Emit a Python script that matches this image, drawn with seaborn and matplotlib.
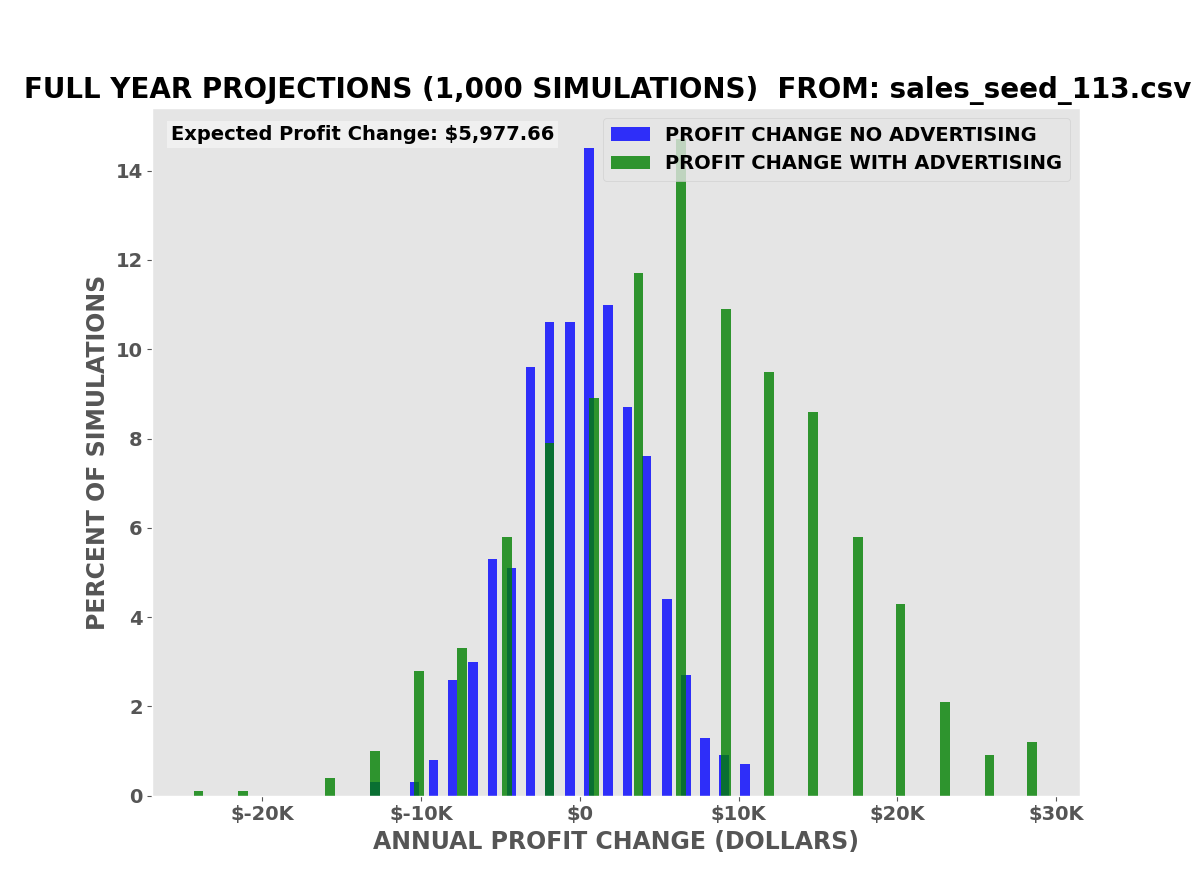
import matplotlib
matplotlib.use("Agg")
import matplotlib.pyplot as plt
import seaborn as sns
import pandas as pd
from matplotlib.ticker import FuncFormatter

# bin centers (dollars) and percent of simulations
no_adv_x = [-12900, -10400, -9200, -8000, -6700, -5500, -4300, -3100, -1900, -600,
            600, 1800, 3000, 4200, 5500, 6700, 7900, 9100, 10400]
no_adv_pct = [0.3, 0.3, 0.8, 2.6, 3.0, 5.3, 5.1, 9.6, 10.6, 10.6,
              14.5, 11.0, 8.7, 7.6, 4.4, 2.7, 1.3, 0.9, 0.7]

adv_x = [-24000, -21200, -15700, -12900, -10100, -7400, -4600, -1900, 900, 3700,
         6400, 9200, 11900, 14700, 17500, 20200, 23000, 25800, 28500]
adv_pct = [0.1, 0.1, 0.4, 1.0, 2.8, 3.3, 5.8, 7.9, 8.9, 11.7,
           14.7, 10.9, 9.5, 8.6, 5.8, 4.3, 2.1, 0.9, 1.2]

expected_change = 5977.66

plt.style.use("ggplot")
fig, ax = plt.subplots(figsize=(12, 8.94), dpi=100)
fig.subplots_adjust(left=0.127, right=0.9, top=0.879, bottom=0.11)

df_no = pd.DataFrame({"x": no_adv_x, "pct": no_adv_pct})
df_ad = pd.DataFrame({"x": adv_x, "pct": adv_pct})

sns.barplot(data=df_no, x="x", y="pct", native_scale=True, width=0.5,
            color="blue", alpha=0.8, saturation=1, ax=ax,
            label="PROFIT CHANGE NO ADVERTISING")
sns.barplot(data=df_ad, x="x", y="pct", native_scale=True, width=0.23,
            color="green", alpha=0.8, saturation=1, ax=ax,
            label="PROFIT CHANGE WITH ADVERTISING")

ax.grid(False)
ax.set_xlim(-26900, 31500)
ax.set_ylim(0, 15.4)
ax.set_xticks([-20000, -10000, 0, 10000, 20000, 30000])
ax.xaxis.set_major_formatter(FuncFormatter(lambda v, p: f"${int(v/1000)}K" if v != 0 else "$0"))
for lbl in ax.get_xticklabels() + ax.get_yticklabels():
    lbl.set_fontsize(14)
    lbl.set_fontweight("bold")
    lbl.set_color("#555555")

ax.set_xlabel("ANNUAL PROFIT CHANGE (DOLLARS)", fontsize=17, fontweight="bold", color="#555555")
ax.set_ylabel("PERCENT OF SIMULATIONS", fontsize=17, fontweight="bold", color="#555555")
fig.text(0.02, 0.899, "FULL YEAR PROJECTIONS (1,000 SIMULATIONS)  FROM: sales_seed_113.csv",
         fontsize=20, fontweight="bold", color="black", ha="left", va="center")

ax.text(0.02, 0.975, f"Expected Profit Change: ${expected_change:,.2f}",
        transform=ax.transAxes, fontsize=14, fontweight="bold", va="top",
        bbox=dict(facecolor="#f0f0f0", edgecolor="none", pad=3))

leg = ax.legend(loc="upper right", prop={"weight": "bold", "size": 14})
for t in leg.get_texts():
    t.set_color("black")

fig.savefig("out.png", dpi=100)
